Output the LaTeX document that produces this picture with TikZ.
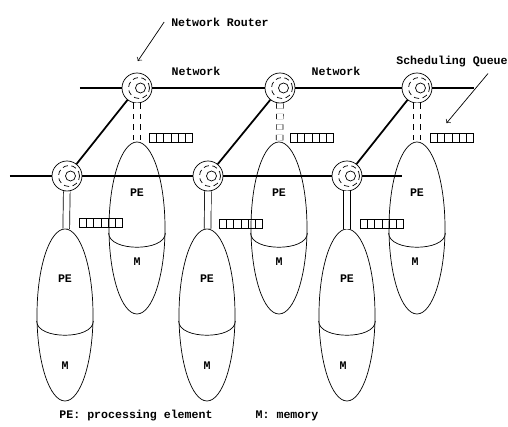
\documentclass[tikz,border=0pt]{standalone}
\usepackage{fontspec}
\setmonofont{Liberation Mono}
\usetikzlibrary{shapes, arrows, positioning}

\begin{document}
\begin{tikzpicture}[x=0.2mm,y=-0.2mm,font=\ttfamily\bfseries\fontsize{6.6}{8}\selectfont,
	router/.style={circle,draw,thin,fill=white,minimum size=6mm,inner sep=0pt,
		path picture={\draw[densely dashed] ([xshift=0.4mm]path picture bounding box.center) circle (2.1mm);
			\draw ([xshift=0.7mm]path picture bounding box.center) circle (1mm);}},
	pe/.style={ellipse,draw,thin,minimum width=11.2mm,minimum height=34.4mm,inner sep=0pt},
	queue/.style={rectangle,draw,thin,minimum width=8.6mm,minimum height=1.8mm,inner sep=0pt,
		path picture={\foreach \k in {1,...,5} \draw ([xshift=\k*1.433mm]path picture bounding box.south west) -- ++(0,1.8mm);}},
	net/.style={line width=1.3pt},
	link/.style={double,double distance=1.2mm,thin},
	txt/.style={inner sep=1pt}]
		%\draw[gray,step=20] (0,0) grid (508,427);
		\useasboundingbox (0,0) rectangle (508,427);

		\node[router] (B1) at (137,88) {};
		\node[router] (B2) at (280,88) {};
		\node[router] (B3) at (417,88) {};
		\node[router] (F1) at (67,176) {};
		\node[router] (F2) at (208,176) {};
		\node[router] (F3) at (347,176) {};

		\node[pe] (BP1) at (137,228) {};
		\node[pe] (BP2) at (279,228) {};
		\node[pe] (BP3) at (417,228) {};
		\node[pe] (FP1) at (65,315) {};
		\node[pe] (FP2) at (207,315) {};
		\node[pe] (FP3) at (347,315) {};

		\node[queue] (BQ1) at (171,138) {};
		\node[queue] (BQ2) at (312,138) {};
		\node[queue] (BQ3) at (452,138) {};
		\node[queue] (FQ1) at (101,223) {};
		\node[queue] (FQ2) at (241,224) {};
		\node[queue] (FQ3) at (382,224) {};

		\node[txt] (BP1a) at (137,193) {PE};
		\node[txt] (BP1b) at (137,262) {M};
		\node[txt] (BP2a) at (279,193) {PE};
		\node[txt] (BP2b) at (279,262) {M};
		\node[txt] (BP3a) at (417,193) {PE};
		\node[txt] (BP3b) at (415,262) {M};
		\node[txt] (FP1a) at (65,279) {PE};
		\node[txt] (FP1b) at (65,366) {M};
		\node[txt] (FP2a) at (207,279) {PE};
		\node[txt] (FP2b) at (207,366) {M};
		\node[txt] (FP3a) at (347,279) {PE};
		\node[txt] (FP3b) at (343,366) {M};

		\node[txt] (lrouter) at (220,22) {Network Router};
		\node[txt] (lnet1) at (196,71) {Network};
		\node[txt] (lnet2) at (336,71) {Network};
		\node[txt] (lqueue) at (452,62) {Scheduling Queue};
		\node[txt] (lpe) at (136,416) {PE: processing element};
		\node[txt] (lmem) at (287,416) {M: memory};

		\coordinate (bl) at (80,88);
		\coordinate (br) at (474,88);
		\coordinate (fl) at (10,176);
		\coordinate (fr) at (402,176);

		% networks
		\draw[net] (bl) -- (B1) -- (B2) -- (B3) -- (br);
		\draw[net] (fl) -- (F1) -- (F2) -- (F3) -- (fr);
		\draw[line width=1pt] (F1) -- (B1);
		\draw[line width=1pt] (F2) -- (B2);
		\draw[line width=1pt] (F3) -- (B3);

		% router to PE
		\draw[link,dashed] (B1) -- (BP1);
		\draw[link,dashed] (B2) -- (BP2);
		\draw[link,dashed] (B3) -- (BP3);
		\draw[link] (F1) -- (FP1);
		\draw[link] (F2) -- (FP2);
		\draw[link] (F3) -- (FP3);

		% PE / M borders
		\draw[thin] ([yshift=-1mm]BP1.west) .. controls +(0,-3.8mm) and +(0,-3.8mm) .. ([yshift=-1mm]BP1.east);
		\draw[thin] ([yshift=-1mm]BP2.west) .. controls +(0,-3.8mm) and +(0,-3.8mm) .. ([yshift=-1mm]BP2.east);
		\draw[thin] ([yshift=-1mm]BP3.west) .. controls +(0,-3.8mm) and +(0,-3.8mm) .. ([yshift=-1mm]BP3.east);
		\draw[thin] ([yshift=-1.2mm]FP1.west) .. controls +(0,-3.8mm) and +(0,-3.8mm) .. ([yshift=-1.2mm]FP1.east);
		\draw[thin] ([yshift=-1.2mm]FP2.west) .. controls +(0,-3.8mm) and +(0,-3.8mm) .. ([yshift=-1.2mm]FP2.east);
		\draw[thin] ([yshift=-1.2mm]FP3.west) .. controls +(0,-3.8mm) and +(0,-3.8mm) .. ([yshift=-1.2mm]FP3.east);

		% pointers
		\draw[thin,->,shorten >=2.8mm] ([xshift=-1mm]lrouter.west) -- ([xshift=-1.4mm]B1.north);
		\draw[thin,->,shorten >=2.6mm] ([xshift=7.2mm,yshift=-0.8mm]lqueue.south) -- ([xshift=1.6mm]BQ3.north west);

	\end{tikzpicture}
\end{document}
